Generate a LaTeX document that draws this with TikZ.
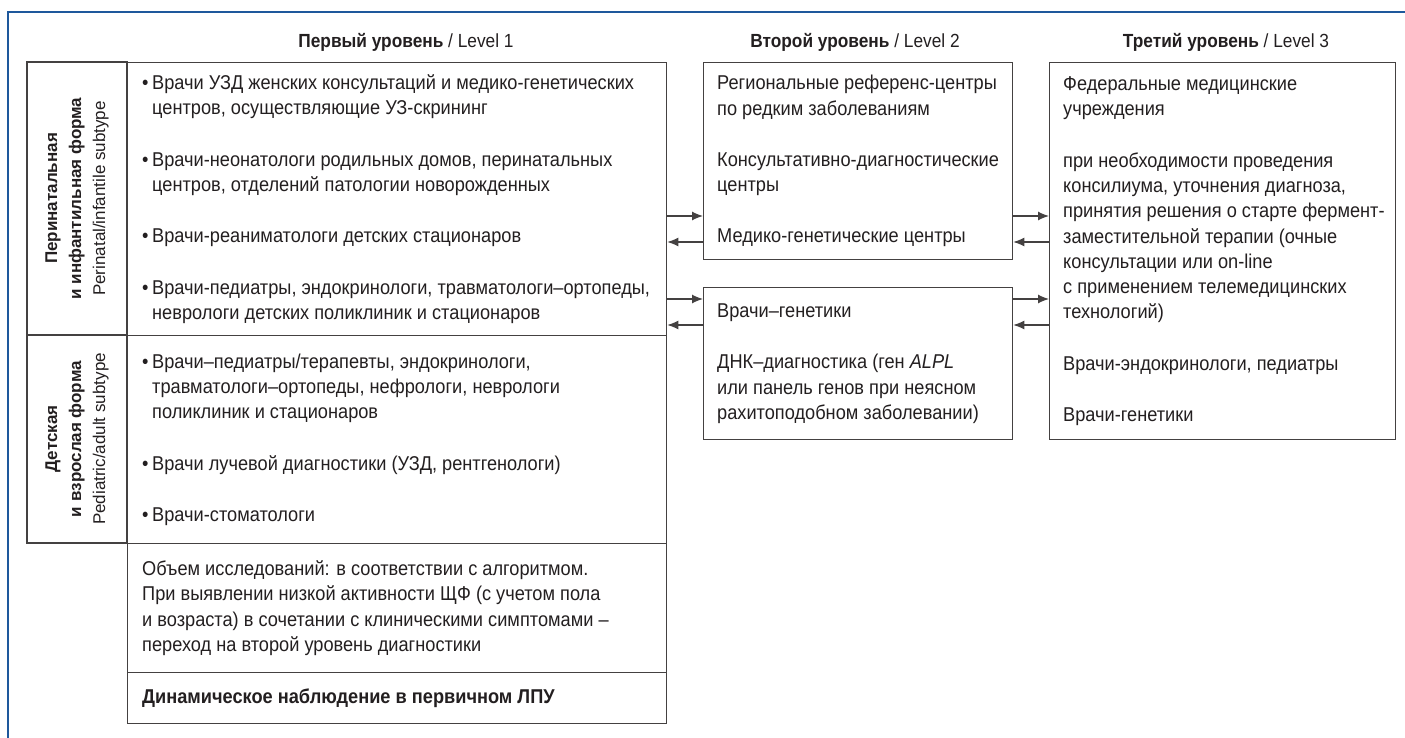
\documentclass[tikz,border=0pt]{standalone}
\usepackage{fontspec}
\setmainfont{Liberation Sans}[FakeStretch=0.91]
\newfontfamily\widefam{Liberation Sans}
\usepackage{graphicx}
\usetikzlibrary{arrows.meta}
\tikzset{>={Latex[length=11pt,width=9pt]}}
\definecolor{framecol}{RGB}{30,88,156}
\definecolor{ink}{RGB}{35,31,32}
\newcommand{\bl}{\makebox[10pt][l]{•}}
\newcommand{\ind}{\hspace*{10pt}}
\newcommand{\bodyfont}{\fontsize{20}{25.3}\selectfont}
\newcommand{\headfont}{\fontsize{19}{22}\selectfont}
\newcommand{\lblfont}{\widefam\fontsize{17}{24}\selectfont}

\begin{document}
\begin{tikzpicture}
[x=1pt, y=-1pt, font=\bodyfont, text=ink,
 box/.style={draw=ink!85, line width=1.3pt, anchor=north west, inner sep=0pt},
 txt/.style={anchor=west, align=left, inner sep=0pt},
 lbl/.style={draw=ink!85, line width=1.3pt, rotate=90, font=\lblfont, align=center, inner sep=0pt},
 head/.style={anchor=base, font=\headfont},
 conn/.style={->, line width=1.2pt, color=ink!85}]
\useasboundingbox (0,0) rectangle (1405,738);
\draw[framecol, line width=2.6pt] (8,738) -- (8,12) -- (1405,12);

\node[head] (h1) at (406,48) {\textbf{Первый уровень} / Level 1};
\node[head] (h2) at (855,48) {\textbf{Второй уровень} / Level 2};
\node[head] (h3) at (1226,48) {\textbf{Третий уровень} / Level 3};

\node[lbl, minimum width=273pt, minimum height=100pt] (perilbl) at (77,198.5)
 {\textbf{Перинатальная}\\\textbf{и инфантильная форма}\\Perinatal/infantile subtype};
\node[box, minimum width=539pt, minimum height=273pt] (peri) at (127,62) {};
\node[txt] (peritxt) at ([xshift=15pt]peri.west)
 {\bl Врачи УЗД женских консультаций и медико-генетических\\
  \ind центров, осуществляющие УЗ-скрининг\\[26pt]
  \bl Врачи-неонатологи родильных домов, перинатальных\\
  \ind центров, отделений патологии новорожденных\\[26pt]
  \bl Врачи-реаниматологи детских стационаров\\[26pt]
  \bl Врачи-педиатры, эндокринологи, травматологи–ортопеды,\\
  \ind неврологи детских поликлиник и стационаров};

\node[lbl, minimum width=208pt, minimum height=100pt] (childlbl) at (77,439)
 {\textbf{Детская}\\\textbf{и взрослая форма}\\Pediatric/adult subtype};
\node[box, minimum width=539pt, minimum height=208pt] (child) at (127,335) {};
\node[txt] (childtxt) at ([xshift=15pt]child.west)
 {\bl Врачи–педиатры/терапевты, эндокринологи,\\
  \ind травматологи–ортопеды, нефрологи, неврологи\\
  \ind поликлиник и стационаров\\[26pt]
  \bl Врачи лучевой диагностики (УЗД, рентгенологи)\\[26pt]
  \bl Врачи-стоматологи};

\node[box, minimum width=539pt, minimum height=129pt] (volume) at (127,543) {};
\node[txt] (volumetxt) at ([xshift=15pt]volume.west)
 {Объем исследований: в соответствии с алгоритмом.\\
  При выявлении низкой активности ЩФ (с учетом пола\\
  и возраста) в сочетании с клиническими симптомами –\\
  переход на второй уровень диагностики};
\node[box, minimum width=539pt, minimum height=51pt] (dyn) at (127,672) {};
\node[txt] (dyntxt) at ([xshift=15pt]dyn.west)
 {\textbf{Динамическое наблюдение в первичном ЛПУ}};

\node[box, minimum width=309pt, minimum height=197pt] (regional) at (703,62) {};
\node[txt] (regionaltxt) at ([xshift=14pt]regional.west)
 {Региональные референс-центры\\
  по редким заболеваниям\\[26pt]
  Консультативно-диагностические\\
  центры\\[26pt]
  Медико-генетические центры};
\node[box, minimum width=309pt, minimum height=152pt] (genet) at (703,287) {};
\node[txt] (genettxt) at ([xshift=14pt]genet.west)
 {Врачи–генетики\\[26pt]
  ДНК–диагностика (ген \textit{ALPL}\\
  или панель генов при неясном\\
  рахитоподобном заболевании)};

\node[box, minimum width=346pt, minimum height=377pt] (federal) at (1049,62) {};
\node[txt] (federaltxt) at ([xshift=14pt]federal.west)
 {Федеральные медицинские\\
  учреждения\\[26pt]
  при необходимости проведения\\
  консилиума, уточнения диагноза,\\
  принятия решения о старте фермент-\\
  заместительной терапии (очные\\
  консультации или on-line\\
  с применением телемедицинских\\
  технологий)\\[26pt]
  Врачи-эндокринологи, педиатры\\[26pt]
  Врачи-генетики};

\coordinate (fw1) at (0,216);
\coordinate (bk1) at (0,242);
\coordinate (fw2) at (0,299);
\coordinate (bk2) at (0,325);
\path[conn]
(peri.east |- fw1) edge (regional.west |- fw1)
(regional.west |- bk1) edge (peri.east |- bk1)
(peri.east |- fw2) edge (genet.west |- fw2)
(genet.west |- bk2) edge (peri.east |- bk2)
(regional.east |- fw1) edge (federal.west |- fw1)
(federal.west |- bk1) edge (regional.east |- bk1)
(genet.east |- fw2) edge (federal.west |- fw2)
(federal.west |- bk2) edge (genet.east |- bk2)
;
\end{tikzpicture}
\end{document}
